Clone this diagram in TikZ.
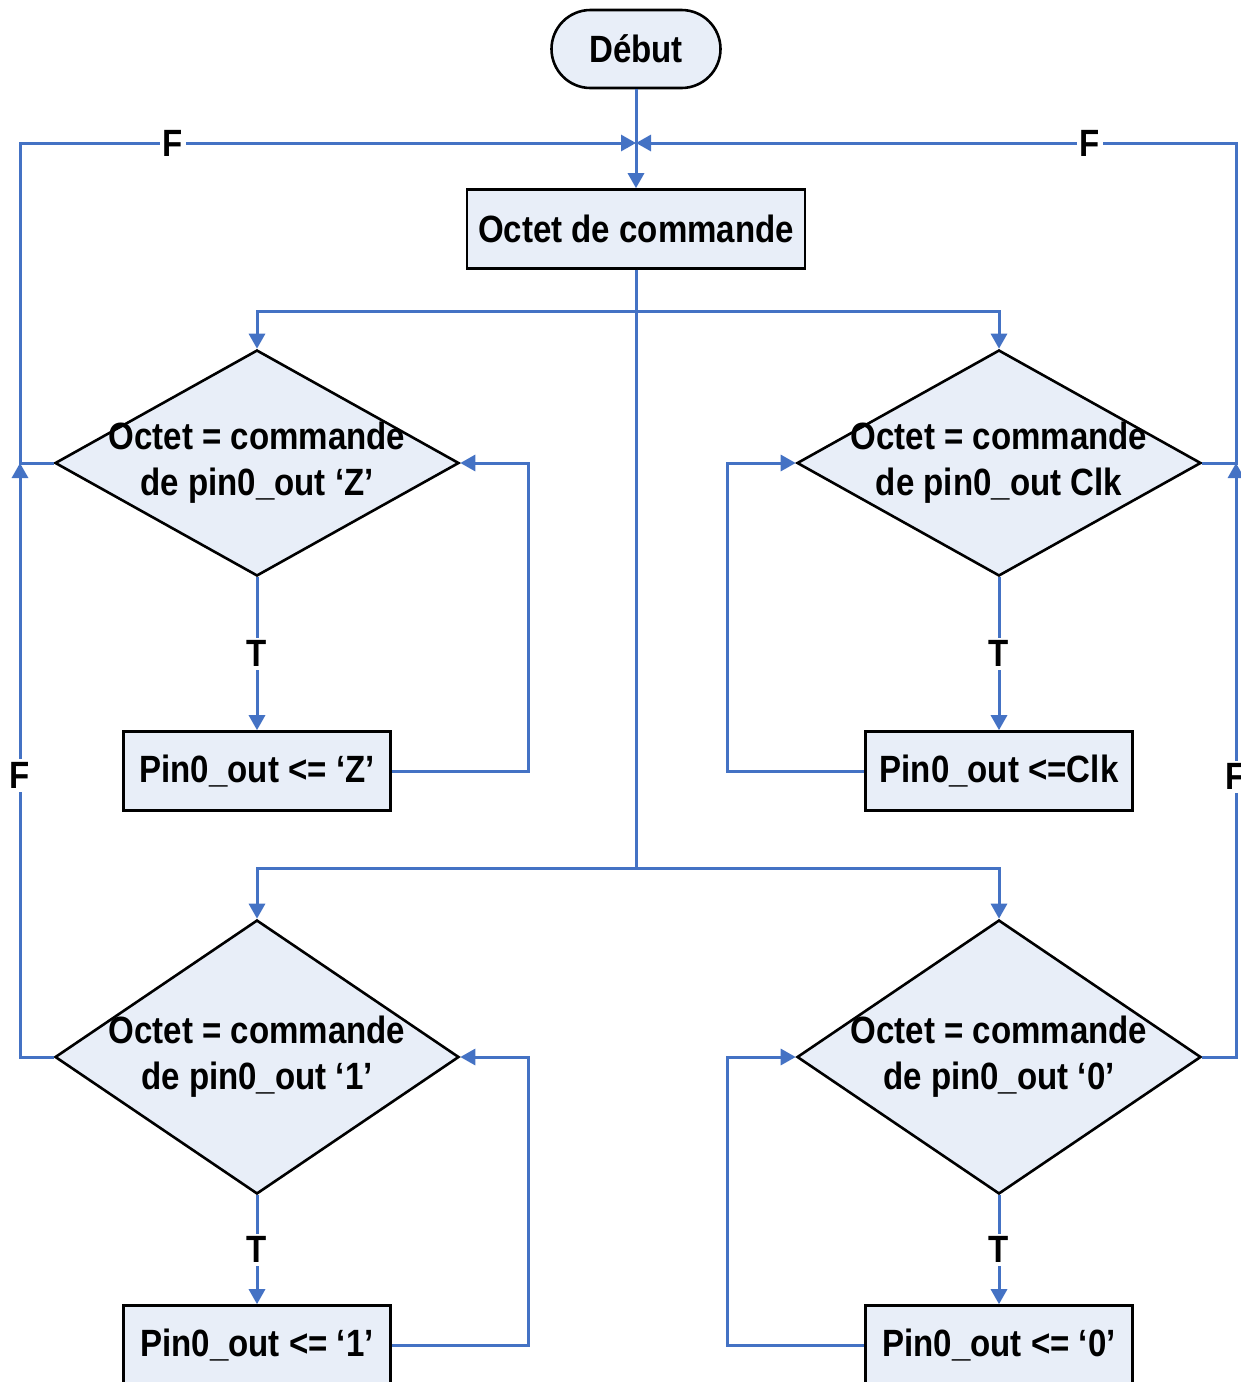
\documentclass[tikz,border=0pt]{standalone}
\usepackage{fontspec}
\setmainfont{Liberation Sans}[FakeStretch=0.87]
\usetikzlibrary{positioning, arrows.meta, calc, shapes.geometric}
\definecolor{flowblue}{HTML}{4472C4}
\definecolor{boxfill}{HTML}{E8EEF8}

\begin{document}
\begin{tikzpicture}[x=0.5pt, y=-0.5pt,
  txt/.style={font=\bfseries\fontsize{19}{23}\selectfont},
  box/.style={draw, line width=1.3pt, fill=boxfill, txt, inner sep=0pt,
              minimum width=133.5pt, minimum height=39.5pt},
  test/.style={draw, line width=1.3pt, fill=boxfill, diamond, inner sep=0pt,
               minimum width=202pt},
  flow/.style={draw=flowblue, line width=1.5pt},
  arr/.style={flow, -{Triangle[length=7.5pt, width=8pt]}},
  lbl/.style={txt, fill=white, inner sep=1.5pt}]
  \useasboundingbox (0,0) rectangle (1241,1382);
  % start and command byte
  \node[box, minimum width=84.5pt, minimum height=39pt, rounded corners=19.5pt] (start) at (636,49) {Début};
  \node[box, minimum width=169pt] (cmd) at (636,229) {Octet de commande};
  \coordinate (join) at (636,143);
  \coordinate (split) at (636,868);
  % tests
  \node[test, minimum height=113pt] (dz) at (257,463) {};
  \node[test, minimum height=113pt] (dclk) at (999,463) {};
  \node[test, minimum height=137pt] (done) at (257,1057) {};
  \node[test, minimum height=137pt] (dzero) at (999,1057) {};
  \node[txt, align=center] (tz) at (dz) {Octet = commande\\de pin0\_out ‘Z’};
  \node[txt, align=center] (tclk) at (dclk) {Octet = commande\\de pin0\_out Clk};
  \node[txt, align=center] (tone) at (done) {Octet = commande\\de pin0\_out ‘1’};
  \node[txt, align=center] (tzero) at (dzero) {Octet = commande\\de pin0\_out ‘0’};
  % outputs
  \node[box] (bz) at (257,771) {Pin0\_out <= ‘Z’};
  \node[box] (bclk) at (999,771) {Pin0\_out <=Clk};
  \node[box] (bone) at (257,1345) {Pin0\_out <= ‘1’};
  \node[box] (bzero) at (999,1345) {Pin0\_out <= ‘0’};
  \coordinate (ltap) at (20,463);
  \coordinate (rtap) at (1236,463);
  % connectors
  \draw[arr] (start) -- (cmd);
  \draw[arr] (cmd.south) -- ++(0,42) -| (dz.north);
  \draw[arr] (cmd.south) -- ++(0,42) -| (dclk.north);
  \draw[flow] (cmd.south) -- (split);
  \draw[arr] (split) -| (done.north);
  \draw[arr] (split) -| (dzero.north);
  \draw[arr] (dz.south) -- node[lbl] {T} (bz.north);
  \draw[arr] (dclk.south) -- node[lbl] {T} (bclk.north);
  \draw[arr] (done.south) -- node[lbl] {T} (bone.north);
  \draw[arr] (dzero.south) -- node[lbl] {T} (bzero.north);
  \draw[arr] (bz.east) -- ++(137,0) |- (dz.east);
  \draw[arr] (bclk.west) -- ++(-137,0) |- (dclk.west);
  \draw[arr] (bone.east) -- ++(137,0) |- (done.east);
  \draw[arr] (bzero.west) -- ++(-137,0) |- (dzero.west);
  % false branches
  \draw[arr] (done.west) -| node[lbl, pos=0.737] {F} (ltap);
  \draw[arr] (dz.west) -- (ltap) |- node[lbl, pos=0.624] {F} (join);
  \draw[arr] (dzero.east) -| node[lbl, pos=0.736] {F} (rtap);
  \draw[arr] (dclk.east) -- (rtap) |- node[lbl, pos=0.622] {F} (join);
\end{tikzpicture}
\end{document}
